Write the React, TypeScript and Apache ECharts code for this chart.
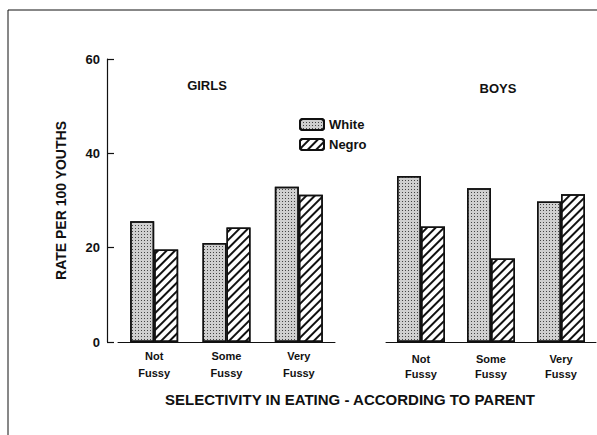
import React, { useEffect, useRef } from "react";
import * as echarts from "echarts";

const categories = ["Not\nFussy", "Some\nFussy", "Very\nFussy"];
const girlsWhite = [25.6, 21.0, 32.9];
const girlsNegro = [19.6, 24.3, 31.2];
const boysWhite = [35.2, 32.6, 29.8];
const boysNegro = [24.5, 17.7, 31.3];
const yTicks = { min: 0, max: 60, interval: 20 };

const FONT = "'Liberation Sans', Arial, Helvetica, sans-serif";
const INK = "#111";

const whiteStyle = {
  color: "#cfcfcf",
  borderColor: INK,
  borderWidth: 1.5,
  decal: {
    symbol: "rect",
    symbolSize: 1,
    dashArrayX: [1, 2],
    dashArrayY: [1, 2],
    color: "#444",
  },
};
const negroStyle = {
  color: "#fff",
  borderColor: INK,
  borderWidth: 1.5,
  decal: {
    symbol: "rect",
    symbolSize: 1,
    dashArrayX: [1, 0],
    dashArrayY: [2, 4],
    rotation: -Math.PI / 4,
    color: INK,
  },
};

export default function App() {
  const ref = useRef<HTMLDivElement>(null);
  useEffect(() => {
    if (!ref.current) return;
    const chart = echarts.init(ref.current, null, { renderer: "svg" });
    const xAxisBase = (gridIndex: number, margin: number, lh: number) => ({
      type: "category",
      gridIndex,
      data: categories,
      axisLine: { show: true, lineStyle: { color: INK, width: 1 } },
      axisTick: { show: false },
      axisLabel: {
        margin,
        lineHeight: lh,
        color: INK,
        fontFamily: FONT,
        fontWeight: "bold",
        fontSize: 11,
      },
    });
    chart.setOption({
      animation: false,
      backgroundColor: "#fff",
      textStyle: { fontFamily: FONT },
      legend: {
        data: ["White", "Negro"],
        orient: "vertical",
        left: 299,
        top: 118,
        padding: 0,
        itemWidth: 24,
        itemHeight: 11,
        itemGap: 7,
        textStyle: { color: INK, fontWeight: "bold", fontSize: 13, fontFamily: FONT },
      },
      grid: [
        { left: 118, top: 59, width: 217, height: 283 },
        { left: 386, top: 59, width: 210, height: 283 },
      ],
      xAxis: [xAxisBase(0, 5, 17), xAxisBase(1, 9, 15)],
      yAxis: [
        {
          type: "value",
          gridIndex: 0,
          ...yTicks,
          offset: 11,
          name: "RATE PER 100 YOUTHS",
          nameLocation: "middle",
          nameRotate: 90,
          nameGap: 39,
          nameTextStyle: { color: INK, fontWeight: "bold", fontSize: 14, fontFamily: FONT },
          axisLine: { show: true, lineStyle: { color: INK, width: 1.2 } },
          axisTick: { show: true, inside: true, length: 7, lineStyle: { color: INK, width: 1.2 } },
          axisLabel: { color: INK, fontWeight: "bold", fontSize: 13, margin: 7, fontFamily: FONT },
          splitLine: { show: false },
        },
        {
          type: "value",
          gridIndex: 1,
          ...yTicks,
          show: false,
          splitLine: { show: false },
        },
      ],
      graphic: [
        { type: "line", shape: { x1: 8, y1: 10, x2: 597, y2: 10 }, style: { stroke: INK, lineWidth: 1 } },
        { type: "line", shape: { x1: 8, y1: 10, x2: 8, y2: 435 }, style: { stroke: INK, lineWidth: 1 } },
        {
          type: "text",
          x: 207,
          y: 85,
          style: { text: "GIRLS", fill: INK, font: `bold 13px ${FONT}`, textAlign: "center", textVerticalAlign: "middle" },
        },
        {
          type: "text",
          x: 498,
          y: 88,
          style: { text: "BOYS", fill: INK, font: `bold 13px ${FONT}`, textAlign: "center", textVerticalAlign: "middle" },
        },
        {
          type: "text",
          x: 350,
          y: 399,
          style: {
            text: "SELECTIVITY IN EATING - ACCORDING TO PARENT",
            fill: INK,
            font: `bold 15px ${FONT}`,
            textAlign: "center",
            textVerticalAlign: "middle",
          },
        },
      ],
      series: [
        { name: "White", type: "bar", xAxisIndex: 0, yAxisIndex: 0, data: girlsWhite, barWidth: 24, barGap: "0%", itemStyle: whiteStyle },
        { name: "Negro", type: "bar", xAxisIndex: 0, yAxisIndex: 0, data: girlsNegro, barWidth: 24, barGap: "0%", itemStyle: negroStyle },
        { name: "White", type: "bar", xAxisIndex: 1, yAxisIndex: 1, data: boysWhite, barWidth: 24, barGap: "0%", itemStyle: whiteStyle },
        { name: "Negro", type: "bar", xAxisIndex: 1, yAxisIndex: 1, data: boysNegro, barWidth: 24, barGap: "0%", itemStyle: negroStyle },
      ],
    });
    return () => chart.dispose();
  }, []);
  return (
    <div
      ref={ref}
      style={{ position: "fixed", left: 0, top: 0, width: 597, height: 435, background: "#fff" }}
    />
  );
}
